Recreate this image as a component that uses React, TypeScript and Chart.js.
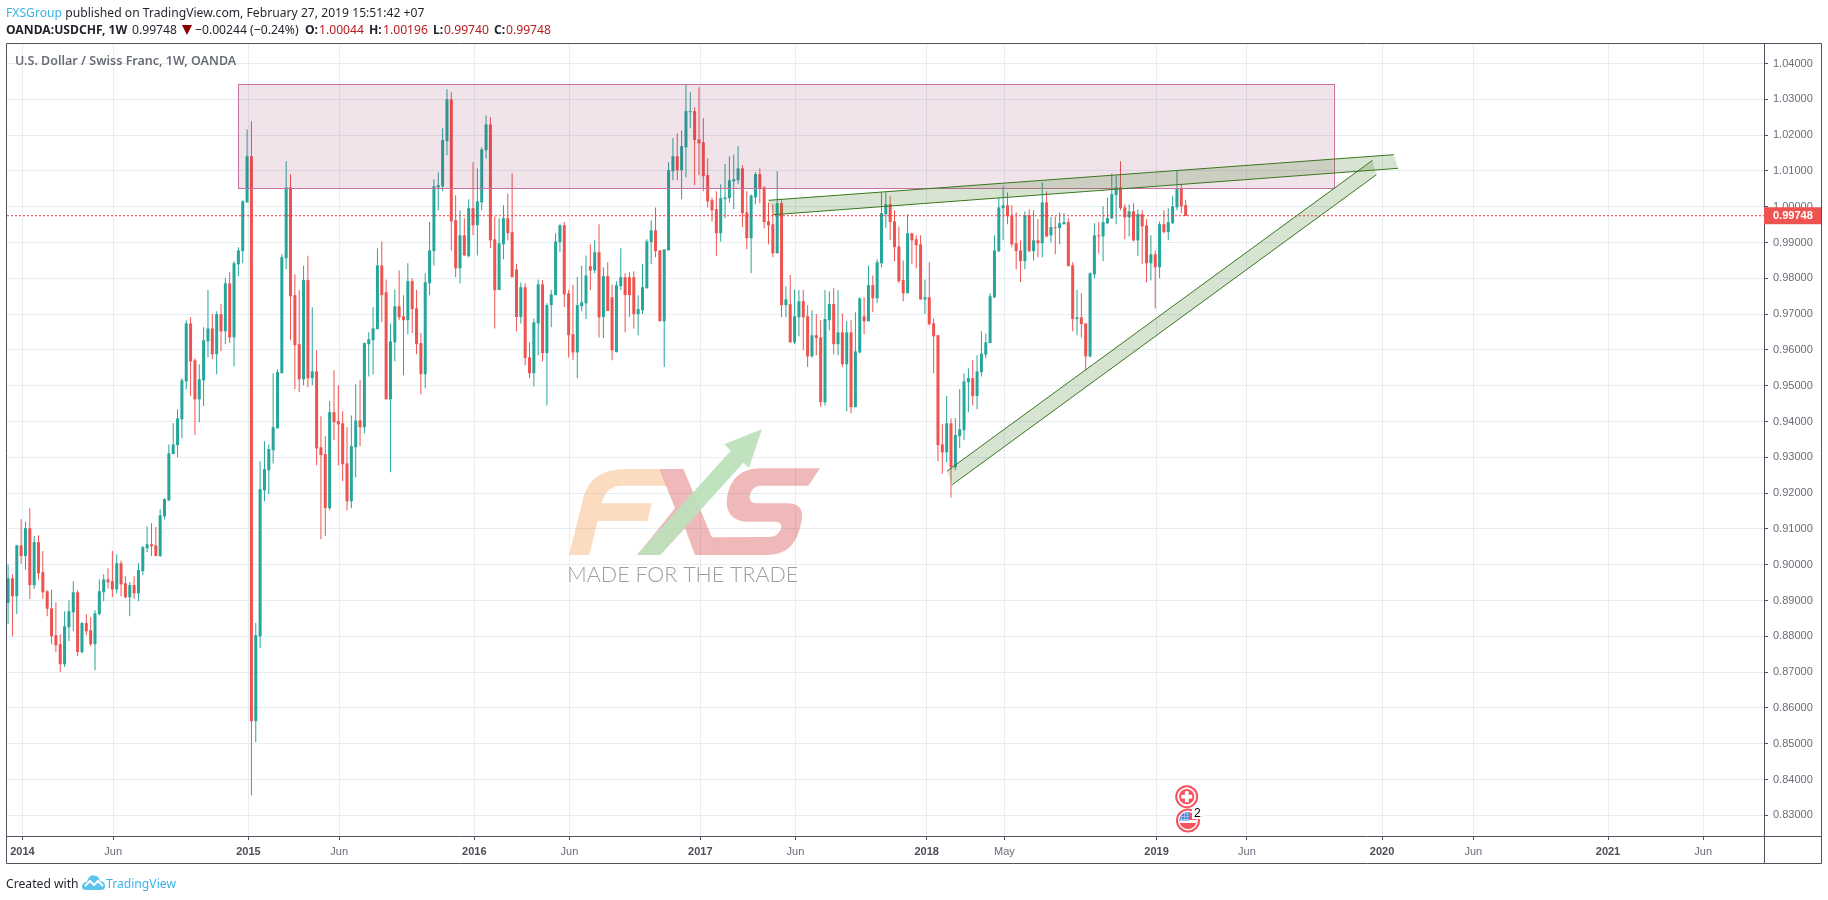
import React, { useEffect, useRef } from "react";
import { Chart, registerables } from "chart.js";

Chart.register(...registerables);

const opens = [
  0.8893, 0.8962, 0.8912, 0.9054, 0.9024, 0.9102, 0.8943, 0.9063, 0.8979, 0.8926,
  0.8878, 0.8803, 0.8778, 0.8722, 0.8825, 0.8867, 0.8923, 0.8756, 0.8837, 0.8817,
  0.8778, 0.8862, 0.8923, 0.8959, 0.8954, 0.8931, 0.9004, 0.8948, 0.8909, 0.8943,
  0.8920, 0.8982, 0.9046, 0.9057, 0.9054, 0.9024, 0.9135, 0.9180, 0.9309, 0.9334,
  0.9406, 0.9512, 0.9674, 0.9571, 0.9462, 0.9515, 0.9624, 0.9660, 0.9588, 0.9700,
  0.9652, 0.9786, 0.9635, 0.9839, 0.9876, 1.0012, 1.0141, 0.8563, 0.8800, 0.9208,
  0.9264, 0.9320, 0.9381, 0.9535, 0.9856, 1.0054, 0.9753, 0.9616, 0.9518, 0.9795,
  0.9521, 0.9540, 0.9328, 0.9309, 0.9158, 0.9426, 0.9401, 0.9395, 0.9283, 0.9177,
  0.9328, 0.9403, 0.9384, 0.9616, 0.9627, 0.9658, 0.9836, 0.9761, 0.9462, 0.9621,
  0.9722, 0.9694, 0.9683, 0.9792, 0.9716, 0.9619, 0.9532, 0.9786, 0.9876, 1.0054,
  1.0057, 1.0183, 1.0300, 0.9962, 0.9828, 0.9920, 0.9862, 0.9996, 0.9948, 1.0012,
  1.0158, 1.0230, 0.9909, 0.9767, 0.9895, 0.9968, 0.9929, 0.9825, 0.9692, 0.9775,
  0.9579, 0.9535, 0.9674, 0.9783, 0.9591, 0.9725, 0.9753, 0.9901, 0.9948, 0.9758,
  0.9644, 0.9593, 0.9722, 0.9730, 0.9834, 0.9822, 0.9873, 0.9692, 0.9806, 0.9747,
  0.9594, 0.9778, 0.9803, 0.9803, 0.9803, 0.9700, 0.9711, 0.9772, 0.9901, 0.9934,
  0.9878, 0.9680, 0.9878, 1.0099, 1.0141, 1.0102, 1.0166, 1.0264, 1.0267, 1.0188,
  1.0180, 1.0088, 1.0018, 0.9993, 0.9926, 1.0021, 1.0024, 1.0071, 1.0074, 1.0107,
  0.9984, 0.9912, 1.0026, 1.0091, 1.0054, 0.9959, 0.9951, 0.9870, 1.0010, 0.9725,
  0.9728, 0.9621, 0.9691, 0.9736, 0.9694, 0.9582, 0.9641, 0.9635, 0.9454, 0.9683,
  0.9728, 0.9616, 0.9649, 0.9560, 0.9649, 0.9440, 0.9593, 0.9694, 0.9680, 0.9781,
  0.9744, 0.9842, 0.9979, 1.0007, 0.9959, 0.9889, 0.9795, 0.9758, 0.9926, 0.9909,
  0.9895, 0.9741, 0.9747, 0.9674, 0.9641, 0.9336, 0.9314, 0.9395, 0.9272, 0.9359,
  0.9376, 0.9510, 0.9521, 0.9471, 0.9538, 0.9587, 0.9619, 0.9747, 0.9876, 0.9996,
  1.0004, 0.9976, 0.9898, 0.9878, 0.9848, 0.9976, 0.9876, 0.9906, 0.9898, 1.0012,
  0.9920, 0.9943, 0.9940, 0.9951, 0.9957, 0.9836, 0.9686, 0.9691, 0.9674, 0.9582,
  0.9811, 0.9920, 0.9917, 0.9954, 0.9968, 1.0032, 1.0054, 0.9998, 0.9970, 0.9987,
  0.9906, 0.9979, 0.9948, 0.9842, 0.9867, 0.9831, 0.9951, 0.9929, 0.9954, 0.9998,
  1.0051, 1.00044,
];

const highs = [
  0.9000, 0.8973, 0.9056, 0.9127, 0.9121, 0.9158, 0.9080, 0.9082, 0.9038, 0.8929,
  0.8931, 0.8895, 0.8806, 0.8870, 0.8901, 0.8954, 0.8929, 0.8840, 0.8862, 0.8853,
  0.8873, 0.8959, 0.8973, 0.8990, 0.9038, 0.9029, 0.9012, 0.8968, 0.8951, 0.8968,
  0.9004, 0.9052, 0.9107, 0.9116, 0.9105, 0.9155, 0.9186, 0.9336, 0.9395, 0.9434,
  0.9521, 0.9683, 0.9691, 0.9577, 0.9560, 0.9663, 0.9767, 0.9700, 0.9708, 0.9728,
  0.9800, 0.9817, 0.9848, 0.9887, 1.0018, 1.0216, 1.0239, 0.8837, 0.9289, 0.9345,
  0.9336, 0.9535, 0.9546, 0.9867, 1.0127, 1.0091, 0.9811, 0.9767, 0.9835, 0.9863,
  0.9719, 0.9599, 0.9415, 0.9359, 0.9457, 0.9543, 0.9501, 0.9429, 0.9384, 0.9417,
  0.9504, 0.9515, 0.9621, 0.9649, 0.9719, 0.9884, 0.9903, 0.9797, 0.9674, 0.9769,
  0.9822, 0.9753, 0.9842, 0.9800, 0.9767, 0.9647, 0.9814, 0.9957, 1.0077, 1.0096,
  1.0219, 1.0328, 1.0320, 1.0032, 0.9990, 0.9968, 1.0021, 1.0124, 1.0107, 1.0166,
  1.0255, 1.0250, 0.9973, 0.9968, 1.0004, 1.0037, 1.0093, 0.9841, 0.9788, 0.9786,
  0.9621, 0.9688, 0.9797, 0.9795, 0.9730, 0.9767, 0.9926, 0.9951, 0.9957, 0.9767,
  0.9781, 0.9804, 0.9835, 0.9864, 0.9895, 0.9906, 0.9951, 0.9831, 0.9845, 0.9783,
  0.9792, 0.9884, 0.9814, 0.9817, 0.9820, 0.9753, 0.9839, 0.9909, 0.9962, 0.9998,
  0.9878, 0.9881, 1.0124, 1.0191, 1.0205, 1.0213, 1.0341, 1.0320, 1.0278, 1.0334,
  1.0247, 1.0135, 1.0026, 1.0043, 1.0063, 1.0119, 1.0141, 1.0146, 1.0169, 1.0116,
  1.0043, 1.0034, 1.0096, 1.0107, 1.0057, 1.0012, 1.0007, 1.0099, 1.0018, 0.9778,
  0.9809, 0.9769, 0.9767, 0.9767, 0.9725, 0.9711, 0.9700, 0.9683, 0.9767, 0.9764,
  0.9772, 0.9767, 0.9702, 0.9680, 0.9683, 0.9705, 0.9747, 0.9747, 0.9836, 0.9808,
  0.9853, 1.0040, 1.0040, 1.0029, 0.9990, 0.9945, 0.9850, 0.9979, 0.9926, 0.9920,
  0.9920, 0.9797, 0.9845, 0.9688, 0.9641, 0.9392, 0.9471, 0.9409, 0.9409, 0.9490,
  0.9535, 0.9549, 0.9571, 0.9585, 0.9652, 0.9646, 0.9758, 0.9920, 1.0026, 1.0057,
  1.0040, 1.0004, 0.9984, 0.9906, 0.9987, 0.9993, 0.9990, 0.9965, 1.0068, 1.0043,
  0.9971, 0.9973, 0.9984, 0.9982, 0.9968, 0.9845, 0.9767, 0.9758, 0.9674, 0.9817,
  0.9954, 0.9957, 1.0001, 1.0026, 1.0093, 1.0088, 1.0127, 1.0007, 1.0006, 1.0010,
  0.9993, 0.9990, 0.9965, 0.9920, 0.9878, 0.9959, 0.9990, 0.9996, 1.0029, 1.0099,
  1.0063, 1.00196,
];

const lows = [
  0.8834, 0.8800, 0.8862, 0.9003, 0.8986, 0.8904, 0.8932, 0.8959, 0.8904, 0.8856,
  0.8778, 0.8756, 0.8700, 0.8714, 0.8786, 0.8814, 0.8745, 0.8753, 0.8803, 0.8772,
  0.8705, 0.8859, 0.8898, 0.8934, 0.8909, 0.8920, 0.8912, 0.8906, 0.8856, 0.8904,
  0.8898, 0.8971, 0.9035, 0.9024, 0.9024, 0.9022, 0.9127, 0.9177, 0.9309, 0.9300,
  0.9353, 0.9490, 0.9471, 0.9362, 0.9398, 0.9443, 0.9579, 0.9574, 0.9532, 0.9596,
  0.9616, 0.9619, 0.9554, 0.9806, 0.9842, 1.0012, 0.8356, 0.8504, 0.8767, 0.9177,
  0.9197, 0.9283, 0.9381, 0.9535, 0.9825, 0.9627, 0.9490, 0.9482, 0.9501, 0.9496,
  0.9501, 0.9278, 0.9071, 0.9080, 0.9152, 0.9348, 0.9278, 0.9233, 0.9152, 0.9158,
  0.9244, 0.9331, 0.9367, 0.9526, 0.9532, 0.9658, 0.9677, 0.9462, 0.9258, 0.9568,
  0.9683, 0.9529, 0.9644, 0.9647, 0.9588, 0.9476, 0.9493, 0.9753, 0.9836, 0.9990,
  1.0043, 1.0144, 0.9878, 0.9803, 0.9786, 0.9862, 0.9859, 0.9920, 0.9864, 0.9990,
  1.0135, 0.9884, 0.9660, 0.9767, 0.9853, 0.9906, 0.9803, 0.9652, 0.9674, 0.9557,
  0.9521, 0.9498, 0.9585, 0.9568, 0.9445, 0.9663, 0.9753, 0.9873, 0.9720, 0.9579,
  0.9571, 0.9521, 0.9708, 0.9686, 0.9767, 0.9814, 0.9635, 0.9633, 0.9709, 0.9571,
  0.9593, 0.9767, 0.9649, 0.9691, 0.9660, 0.9641, 0.9700, 0.9772, 0.9839, 0.9859,
  0.9680, 0.9552, 0.9878, 1.0074, 1.0074, 1.0021, 1.0082, 1.0219, 1.0060, 1.0088,
  1.0043, 0.9998, 0.9959, 0.9862, 0.9903, 0.9968, 1.0012, 0.9993, 1.0063, 0.9943,
  0.9881, 0.9814, 1.0007, 1.0010, 0.9940, 0.9895, 0.9859, 0.9870, 0.9691, 0.9691,
  0.9621, 0.9616, 0.9638, 0.9599, 0.9552, 0.9579, 0.9585, 0.9441, 0.9445, 0.9655,
  0.9588, 0.9585, 0.9552, 0.9429, 0.9423, 0.9440, 0.9590, 0.9644, 0.9680, 0.9705,
  0.9730, 0.9831, 0.9940, 0.9906, 0.9848, 0.9786, 0.9736, 0.9758, 0.9839, 0.9828,
  0.9741, 0.9700, 0.9669, 0.9535, 0.9289, 0.9255, 0.9286, 0.9188, 0.9264, 0.9325,
  0.9348, 0.9426, 0.9445, 0.9434, 0.9526, 0.9576, 0.9619, 0.9744, 0.9873, 0.9906,
  0.9951, 0.9887, 0.9825, 0.9789, 0.9825, 0.9873, 0.9850, 0.9859, 0.9859, 0.9915,
  0.9901, 0.9867, 0.9895, 0.9951, 0.9834, 0.9652, 0.9641, 0.9635, 0.9543, 0.9579,
  0.9800, 0.9869, 0.9848, 0.9951, 0.9966, 0.9951, 0.9990, 0.9909, 0.9917, 0.9903,
  0.9862, 0.9839, 0.9789, 0.9794, 0.9716, 0.9800, 0.9925, 0.9906, 0.9951, 0.9990,
  0.9982, 0.9974,
];

const closes = [
  0.8962, 0.8912, 0.9054, 0.9024, 0.9102, 0.8943, 0.9063, 0.8976, 0.8923, 0.8877,
  0.8800, 0.8775, 0.8722, 0.8828, 0.8870, 0.8923, 0.8756, 0.8837, 0.8814, 0.8778,
  0.8864, 0.8926, 0.8959, 0.8951, 0.8931, 0.9004, 0.8945, 0.8909, 0.8943, 0.8920,
  0.8985, 0.9049, 0.9057, 0.9052, 0.9024, 0.9138, 0.9183, 0.9311, 0.9336, 0.9409,
  0.9515, 0.9674, 0.9568, 0.9462, 0.9518, 0.9627, 0.9660, 0.9588, 0.9700, 0.9652,
  0.9786, 0.9635, 0.9842, 0.9878, 1.0015, 1.0141, 0.8563, 0.8803, 0.9211, 0.9267,
  0.9323, 0.9384, 0.9538, 0.9859, 1.0054, 0.9750, 0.9613, 0.9518, 0.9795, 0.9521,
  0.9540, 0.9325, 0.9306, 0.9158, 0.9426, 0.9398, 0.9392, 0.9281, 0.9177, 0.9331,
  0.9403, 0.9384, 0.9619, 0.9630, 0.9660, 0.9836, 0.9753, 0.9462, 0.9624, 0.9722,
  0.9691, 0.9683, 0.9792, 0.9714, 0.9616, 0.9532, 0.9789, 0.9878, 1.0057, 1.0060,
  1.0186, 1.0300, 0.9959, 0.9828, 0.9920, 0.9864, 0.9996, 0.9948, 1.0015, 1.0160,
  1.0230, 0.9906, 0.9767, 0.9898, 0.9968, 0.9926, 0.9803, 0.9692, 0.9775, 0.9577,
  0.9535, 0.9677, 0.9783, 0.9591, 0.9725, 0.9755, 0.9903, 0.9948, 0.9755, 0.9641,
  0.9593, 0.9725, 0.9733, 0.9808, 0.9822, 0.9873, 0.9691, 0.9806, 0.9709, 0.9599,
  0.9781, 0.9803, 0.9753, 0.9753, 0.9700, 0.9714, 0.9775, 0.9903, 0.9934, 0.9876,
  0.9680, 0.9881, 1.0102, 1.0141, 1.0102, 1.0169, 1.0267, 1.0267, 1.0186, 1.0177,
  1.0085, 1.0015, 0.9990, 0.9926, 1.0024, 1.0026, 1.0074, 1.0077, 1.0107, 0.9982,
  0.9912, 1.0031, 1.0091, 1.0049, 0.9957, 0.9948, 0.9870, 1.0010, 0.9725, 0.9741,
  0.9621, 0.9694, 0.9736, 0.9691, 0.9582, 0.9641, 0.9633, 0.9454, 0.9686, 0.9728,
  0.9616, 0.9649, 0.9560, 0.9649, 0.9440, 0.9596, 0.9744, 0.9680, 0.9781, 0.9744,
  0.9845, 0.9982, 1.0007, 0.9957, 0.9887, 0.9792, 0.9758, 0.9926, 0.9906, 0.9892,
  0.9741, 0.9747, 0.9672, 0.9638, 0.9334, 0.9314, 0.9395, 0.9272, 0.9362, 0.9378,
  0.9512, 0.9521, 0.9471, 0.9540, 0.9590, 0.9621, 0.9750, 0.9878, 0.9998, 1.0004,
  0.9973, 0.9895, 0.9876, 0.9848, 0.9976, 0.9876, 0.9906, 0.9898, 1.0012, 0.9917,
  0.9943, 0.9940, 0.9954, 0.9957, 0.9834, 0.9686, 0.9691, 0.9672, 0.9582, 0.9814,
  0.9920, 0.9917, 0.9957, 0.9968, 1.0035, 1.0054, 0.9996, 0.9970, 0.9987, 0.9906,
  0.9979, 0.9945, 0.9842, 0.9867, 0.9831, 0.9951, 0.9929, 0.9957, 1.0001, 1.0051,
  1.0001, 0.99748,
];

const priceTicks = [
  0.83, 0.84, 0.85, 0.86, 0.87, 0.88, 0.89, 0.9, 0.91, 0.92, 0.93,
  0.94, 0.95, 0.96, 0.97, 0.98, 0.99, 1.0, 1.01, 1.02, 1.03, 1.04,
];
const weekTicks = [3.3, 24.2, 55.3, 76.2, 107.3, 129.2, 159.3, 181.2, 211.4, 229.3, 264.3, 285.1, 316.2, 337.2, 368.2, 390.1];
const weekLabels = ["2014", "Jun", "2015", "Jun", "2016", "Jun", "2017", "Jun", "2018", "May", "2019", "Jun", "2020", "Jun", "2021", "Jun"];
const lastPrice = 0.99748;

const zoneWeeks = [52.93, 305.06];
const zonePrices = [1.0342, 1.00514];
const flatChannel = { upper: [[175.0, 1.00179], [318.9, 1.01453]], lower: [[176.1, 0.99777], [319.9, 1.01073]] };
const riseChannel = { upper: [[216.1, 0.92617], [314.0, 1.01296]], lower: [[217.3, 0.92235], [314.9, 1.00894]] };

const UP = "#26a69a";
const DOWN = "#ef5350";
const FRAME = "#50535e";

function tradeMark(ctx: CanvasRenderingContext2D) {
  const ox = 560, oy = 420;
  ctx.save();
  ctx.translate(ox, oy);
  ctx.scale(1 / 3, 1 / 3);
  // F
  ctx.fillStyle = "rgba(244,125,22,.27)";
  ctx.beginPath();
  ctx.moveTo(27, 405);
  ctx.lineTo(66, 250);
  ctx.bezierCurveTo(80, 180, 120, 147, 200, 147);
  ctx.lineTo(298, 147);
  ctx.lineTo(320, 197);
  ctx.lineTo(190, 197);
  ctx.bezierCurveTo(150, 197, 135, 215, 125, 250);
  ctx.lineTo(275, 250);
  ctx.lineTo(262, 303);
  ctx.lineTo(113, 303);
  ctx.lineTo(88, 405);
  ctx.closePath();
  ctx.fill();
  // X and S
  ctx.fillStyle = "rgba(209,55,55,.35)";
  ctx.beginPath();
  ctx.moveTo(298, 147);
  ctx.lineTo(370, 147);
  ctx.lineTo(478, 405);
  ctx.lineTo(405, 405);
  ctx.lineTo(375, 325);
  ctx.lineTo(300, 405);
  ctx.lineTo(232, 405);
  ctx.lineTo(345, 265);
  ctx.closePath();
  ctx.fill();
  ctx.beginPath();
  ctx.moveTo(780, 145);
  ctx.lineTo(600, 145);
  ctx.bezierCurveTo(530, 147, 505, 190, 500, 245);
  ctx.bezierCurveTo(500, 285, 525, 305, 565, 305);
  ctx.lineTo(645, 305);
  ctx.bezierCurveTo(665, 305, 668, 320, 660, 332);
  ctx.bezierCurveTo(650, 348, 640, 351, 620, 351);
  ctx.lineTo(455, 352);
  ctx.lineTo(478, 405);
  ctx.lineTo(620, 405);
  ctx.bezierCurveTo(690, 405, 715, 360, 725, 300);
  ctx.bezierCurveTo(732, 265, 715, 250, 680, 250);
  ctx.lineTo(590, 250);
  ctx.bezierCurveTo(570, 250, 565, 235, 572, 220);
  ctx.bezierCurveTo(578, 202, 590, 197, 610, 197);
  ctx.lineTo(745, 197);
  ctx.closePath();
  ctx.fill();
  // arrow
  ctx.fillStyle = "rgba(189,224,187,.94)";
  ctx.beginPath();
  ctx.moveTo(230, 405);
  ctx.lineTo(512, 92);
  ctx.lineTo(493, 73);
  ctx.lineTo(606, 27);
  ctx.lineTo(567, 143);
  ctx.lineTo(550, 128);
  ctx.lineTo(300, 405);
  ctx.closePath();
  ctx.fill();
  ctx.restore();

  ctx.save();
  ctx.font = "300 22px Lato";
  ctx.fillStyle = "rgba(130,130,130,.78)";
  ctx.textBaseline = "alphabetic";
  const label = "MADE FOR THE TRADE";
  const w = ctx.measureText(label).width;
  ctx.translate(567.3, 581.8);
  ctx.scale(231 / w, 1);
  ctx.fillText(label, 0, 0);
  ctx.restore();
}

function channel(ctx: CanvasRenderingContext2D, x: any, y: any, ch: any) {
  const p = (pt: number[]) => [x.getPixelForValue(pt[0]), y.getPixelForValue(pt[1])];
  const [a, b] = ch.upper.map(p);
  const [c, d] = ch.lower.map(p);
  ctx.fillStyle = "rgba(56,118,29,.2)";
  ctx.beginPath();
  ctx.moveTo(a[0], a[1]);
  ctx.lineTo(b[0], b[1]);
  ctx.lineTo(d[0], d[1]);
  ctx.lineTo(c[0], c[1]);
  ctx.closePath();
  ctx.fill();
  ctx.strokeStyle = "#38761d";
  ctx.lineWidth = 1;
  ctx.beginPath();
  ctx.moveTo(a[0], a[1]);
  ctx.lineTo(b[0], b[1]);
  ctx.moveTo(c[0], c[1]);
  ctx.lineTo(d[0], d[1]);
  ctx.stroke();
}

function eventIcons(ctx: CanvasRenderingContext2D) {
  const ring = "#f7525f";
  ctx.save();
  // US badge first, the Swiss one sits on it
  ctx.strokeStyle = ring;
  ctx.lineWidth = 2;
  ctx.fillStyle = "#fff";
  ctx.beginPath();
  ctx.arc(1188, 820.5, 11, 0, Math.PI * 2);
  ctx.fill();
  ctx.stroke();
  ctx.save();
  ctx.beginPath();
  ctx.arc(1188, 820.5, 8.6, 0, Math.PI * 2);
  ctx.clip();
  ctx.fillStyle = ring;
  ctx.fillRect(1178, 811, 21, 20);
  ctx.fillStyle = "#fff";
  ctx.fillRect(1178, 820, 21, 3);
  ctx.fillStyle = "#4a86d8";
  ctx.fillRect(1178, 811, 11, 9.5);
  ctx.fillStyle = "#a9c6ee";
  for (let gy = 813; gy < 820; gy += 3) ctx.fillRect(1178, gy, 11, 0.8);
  for (let gx = 1181; gx < 1189; gx += 3) ctx.fillRect(gx, 811, 0.8, 9.5);
  ctx.restore();
  // Swiss badge
  ctx.fillStyle = "#fff";
  ctx.beginPath();
  ctx.arc(1186.7, 796.7, 10.5, 0, Math.PI * 2);
  ctx.fill();
  ctx.stroke();
  ctx.fillStyle = ring;
  ctx.beginPath();
  ctx.arc(1186.7, 796.7, 7.6, 0, Math.PI * 2);
  ctx.fill();
  ctx.fillStyle = "#fff";
  ctx.fillRect(1184.9, 791.2, 3.8, 11);
  ctx.fillRect(1181.2, 794.8, 11, 3.8);
  ctx.restore();
  ctx.save();
  ctx.fillStyle = "#fff";
  ctx.fillRect(1192, 808, 11, 11);
  ctx.beginPath();
  ctx.rect(1192, 808, 10, 11);
  ctx.clip();
  ctx.fillStyle = "#000";
  ctx.font = "12px 'Liberation Sans'";
  ctx.textBaseline = "middle";
  ctx.fillText("21", 1194, 813.5);
  ctx.restore();
}

const overlay = {
  id: "overlay",
  beforeDatasetsDraw(chart: any) {
    tradeMark(chart.ctx);
  },
  afterDatasetsDraw(chart: any) {
    const { ctx, scales: { x, y } } = chart;
    const { left, right, top, bottom } = chart.chartArea;
    ctx.save();
    ctx.beginPath();
    ctx.rect(left, top, right - left, bottom - top);
    ctx.clip();
    const zx0 = x.getPixelForValue(zoneWeeks[0]);
    const zx1 = x.getPixelForValue(zoneWeeks[1]);
    const zy0 = y.getPixelForValue(zonePrices[0]);
    const zy1 = y.getPixelForValue(zonePrices[1]);
    ctx.fillStyle = "rgba(138,22,80,.12)";
    ctx.fillRect(zx0, zy0, zx1 - zx0, zy1 - zy0);
    ctx.strokeStyle = "#c870a0";
    ctx.lineWidth = 1;
    ctx.strokeRect(Math.round(zx0) + 0.5, Math.round(zy0) + 0.5, Math.round(zx1 - zx0), Math.round(zy1 - zy0));
    channel(ctx, x, y, flatChannel);
    channel(ctx, x, y, riseChannel);
    eventIcons(ctx);
    ctx.restore();
  },
  afterDraw(chart: any) {
    const { ctx, scales: { y } } = chart;
    ctx.save();
    ctx.strokeStyle = FRAME;
    ctx.lineWidth = 1;
    ctx.beginPath();
    ctx.moveTo(6.5, 43.5); ctx.lineTo(1821.5, 43.5);
    ctx.moveTo(6.5, 43.5); ctx.lineTo(6.5, 863.5);
    ctx.moveTo(6.5, 836.5); ctx.lineTo(1821.5, 836.5);
    ctx.moveTo(6.5, 863.5); ctx.lineTo(1821.5, 863.5);
    ctx.moveTo(1764.5, 43.5); ctx.lineTo(1764.5, 863.5);
    ctx.moveTo(1821.5, 43.5); ctx.lineTo(1821.5, 863.5);
    ctx.stroke();
    const py = y.getPixelForValue(lastPrice);
    ctx.fillStyle = DOWN;
    ctx.fillRect(1764, py - 8.5, 57, 17);
    ctx.fillStyle = "#fff";
    ctx.font = "bold 11px 'Liberation Sans'";
    ctx.textBaseline = "middle";
    ctx.textAlign = "left";
    ctx.fillText(lastPrice.toFixed(5), 1773, py + 0.5);
    ctx.restore();
  },
};

const abs = (left: number, top: number, extra: any = {}) => ({
  position: "absolute" as const,
  left,
  top,
  whiteSpace: "nowrap" as const,
  lineHeight: "16px",
  fontFamily: "'Noto Sans', sans-serif",
  fontSize: 13,
  color: "#1f2229",
  transform: "scaleX(.935)",
  transformOrigin: "left center",
  ...extra,
});

export default function App() {
  const ref = useRef<HTMLCanvasElement | null>(null);

  useEffect(() => {
    const idx = opens.map((_, i) => i);
    const chart = new Chart(ref.current as HTMLCanvasElement, {
      type: "bar",
      data: {
        datasets: [
          {
            type: "line",
            data: [{ x: -0.25, y: lastPrice }, { x: 404.1, y: lastPrice }],
            borderColor: "#f7323f",
            borderWidth: 1,
            borderDash: [2, 2],
            pointRadius: 0,
            order: 0,
          },
          {
            data: idx.map((i) => ({ x: i, y: [opens[i], closes[i]] })),
            backgroundColor: idx.map((i) => (closes[i] >= opens[i] ? UP : DOWN)),
            barThickness: 3,
            minBarLength: 1,
            grouped: false,
            borderWidth: 0,
            inflateAmount: 0,
            order: 1,
          },
          {
            data: idx.map((i) => ({ x: i, y: [lows[i], highs[i]] })),
            backgroundColor: idx.map((i) => (closes[i] >= opens[i] ? UP : DOWN)),
            barThickness: 1,
            grouped: false,
            borderWidth: 0,
            inflateAmount: 0,
            order: 2,
          },
        ] as any,
      },
      options: {
        animation: false,
        responsive: false,
        devicePixelRatio: 1,
        layout: { padding: { left: 7, top: 44, right: 7, bottom: 37 } },
        plugins: { legend: { display: false }, tooltip: { enabled: false } },
        scales: {
          x: {
            type: "linear",
            offset: false,
            min: -0.25,
            max: 404.1,
            grid: { color: "#e6edf3", lineWidth: 1, tickLength: 4, tickColor: FRAME, offset: false },
            border: { display: false },
            afterBuildTicks: (s: any) => { s.ticks = weekTicks.map((v) => ({ value: v })); },
            afterFit: (s: any) => { s.height = 27; },
            ticks: {
              autoSkip: false,
              maxRotation: 0,
              padding: 5,
              callback: (_v: any, i: number) => weekLabels[i],
              font: (c: any) => ({
                family: "'Liberation Sans'",
                size: 11,
                weight: /\d/.test(weekLabels[c.index] || "") ? "bold" : "normal",
              }),
              color: (c: any) => (/\d/.test(weekLabels[c.index] || "") ? "#4c4f59" : "#6a6d78"),
            },
          },
          y: {
            position: "right",
            min: 0.82422,
            max: 1.04545,
            grid: { color: "#e6edf3", lineWidth: 1, tickLength: 4, tickColor: FRAME },
            border: { display: false },
            afterBuildTicks: (s: any) => { s.ticks = priceTicks.map((v) => ({ value: v })); },
            afterFit: (s: any) => { s.width = 57; },
            ticks: {
              autoSkip: false,
              padding: 5,
              callback: (v: any) => Number(v).toFixed(5),
              font: { family: "'Liberation Sans'", size: 11 },
              color: "#6a6d78",
            },
          },
        },
      } as any,
      plugins: [overlay] as any,
    });
    return () => chart.destroy();
  }, []);

  const red = { color: "#b71c1c" };
  const bold = { fontWeight: 700 };
  return (
    <div style={{ position: "absolute", left: 0, top: 0, width: 1828, height: 900, background: "#fff", overflow: "hidden" }}>
      <canvas ref={ref} width={1828} height={900} style={{ position: "absolute", left: 0, top: 0, display: "block" }} />
      <div style={abs(6, 4)}>
        <span style={{ color: "#3bb3e4" }}>FXSGroup</span> published on TradingView.com, February 27, 2019 15:51:42 +07
      </div>
      <div style={abs(6, 21, bold)}>OANDA:USDCHF, 1W</div>
      <div style={abs(132, 21)}>0.99748</div>
      <div style={{ position: "absolute", left: 182, top: 25, width: 0, height: 0, borderLeft: "5px solid transparent", borderRight: "5px solid transparent", borderTop: "10px solid #8b0000" }} />
      <div style={abs(195, 21)}>−0.00244 (−0.24%)</div>
      <div style={abs(305, 21, bold)}>O:</div>
      <div style={abs(319, 21, red)}>1.00044</div>
      <div style={abs(369, 21, bold)}>H:</div>
      <div style={abs(383, 21, red)}>1.00196</div>
      <div style={abs(433, 21, bold)}>L:</div>
      <div style={abs(444, 21, red)}>0.99740</div>
      <div style={abs(494, 21, bold)}>C:</div>
      <div style={abs(506, 21, red)}>0.99748</div>
      <div style={abs(15, 53, { fontSize: 12.5, fontWeight: 600, color: "#6a6d78", transform: "none" })}>U.S. Dollar / Swiss Franc, 1W, OANDA</div>
      <div style={abs(6, 875)}>Created with</div>
      <svg style={{ position: "absolute", left: 82, top: 874 }} width="24" height="16" viewBox="0 0 24 16">
        <path d="M0 13 C0 9 3 8 5 8 C6 3 10 0 13 2 C15 1 17 4 18 7 C21 7 24 10 23 13 C23 15 21 16 19 16 L4 16 C2 16 0 15 0 13 Z" fill="#5cc3ea" />
        <path d="M3 12 L8 7 L12 11 L16 7 L21 12" stroke="#fff" strokeWidth="2" fill="none" />
      </svg>
      <div style={abs(106, 875, { color: "#3bb3e4" })}>TradingView</div>
    </div>
  );
}
